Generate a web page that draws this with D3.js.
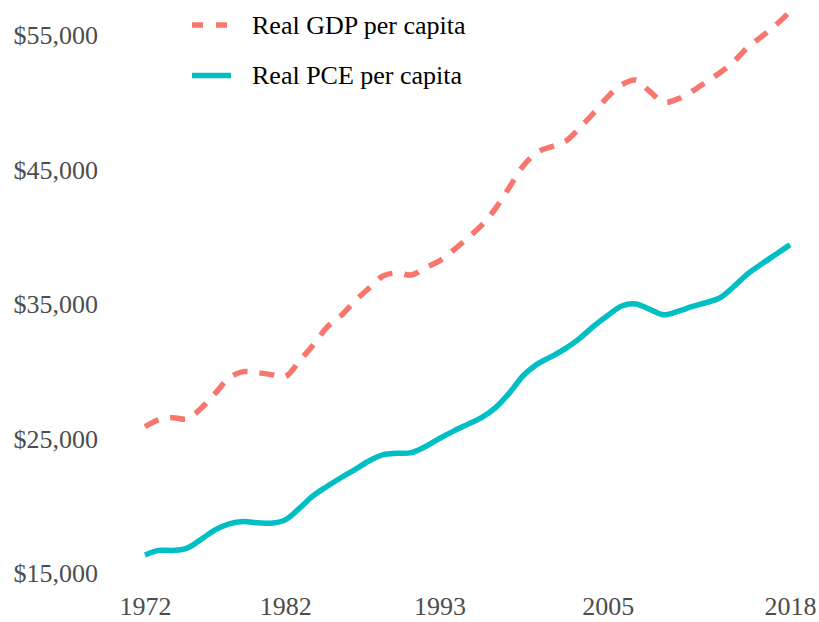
<!DOCTYPE html>
<html><head><meta charset="utf-8">
<script src="https://cdn.jsdelivr.net/npm/d3@7"></script>
<style>body{margin:0;background:#fff;}svg{display:block;}</style>
</head><body><svg id="c" width="819" height="622"></svg>
<script>
const years = d3.range(1972, 2019);
const gdp = [25880,26400,26550,26450,27250,28350,29500,29970,29900,29750,29600,30750,31960,33300,34150,35250,36200,37100,37300,37160,37700,38200,39000,39900,40850,42100,43700,45300,46300,46700,47100,48100,49200,50400,51300,51650,50800,50000,50250,50800,51500,52200,53030,54100,54900,55750,56750];
const pce = [16340,16680,16680,16850,17500,18200,18650,18820,18740,18700,18950,19800,20750,21450,22100,22700,23350,23800,23900,23950,24400,25000,25550,26050,26550,27300,28400,29700,30550,31100,31700,32450,33350,34150,34850,35000,34600,34200,34450,34800,35100,35450,36300,37250,38000,38700,39400];
const xTicks = [1972,1982,1993,2005,2018];
const yTicks = [15000,25000,35000,45000,55000];
const seriesNames = ["Real GDP per capita","Real PCE per capita"];
const colors = ["#F8766D","#00BFC4"];

const svg = d3.select("#c");
const x = d3.scaleLinear().domain([1972,2018]).range([145,790]);
const y = d3.scaleLinear().domain([15000,55000]).range([573,35]);
const font = "'Liberation Serif', 'Times New Roman', serif";

const xAxis = svg.append("g").attr("transform","translate(0,615)")
  .call(d3.axisBottom(x).tickValues(xTicks).tickFormat(d3.format("d")).tickSize(0).tickPadding(0));
xAxis.select(".domain").remove();
xAxis.selectAll("text").attr("dy",0).attr("font-family",font).attr("font-size",26).attr("fill","#4d4d4d");

const yAxis = svg.append("g").attr("transform","translate(98,0)")
  .call(d3.axisLeft(y).tickValues(yTicks).tickFormat(d=>"$"+d3.format(",")(d)).tickSize(0).tickPadding(0));
yAxis.select(".domain").remove();
yAxis.selectAll("text").attr("dy","0.33em").attr("font-family",font).attr("font-size",26).attr("fill","#4d4d4d");

const line = d3.line().x((d,i)=>x(years[i])).y(d=>y(d)).curve(d3.curveCatmullRom.alpha(0.5));
svg.append("path").datum(pce).attr("d",line).attr("fill","none")
  .attr("stroke",colors[1]).attr("stroke-width",5.5);
svg.append("path").datum(gdp).attr("d",line).attr("fill","none")
  .attr("stroke",colors[0]).attr("stroke-width",5.5).attr("stroke-dasharray","15,12");

// legend
const leg = svg.append("g");
[0,1].forEach(i=>{
  const cy = 25 + i*50.5;
  leg.append("line").attr("x1",192).attr("x2",231).attr("y1",cy).attr("y2",cy)
    .attr("stroke",colors[i]).attr("stroke-width",5.5)
    .attr("stroke-dasharray", i===0 ? "11,13" : null);
  leg.append("text").attr("x",252).attr("y",cy).attr("dy","0.33em")
    .attr("font-family",font).attr("font-size",26).attr("fill","#000").text(seriesNames[i]);
});
</script></body></html>
